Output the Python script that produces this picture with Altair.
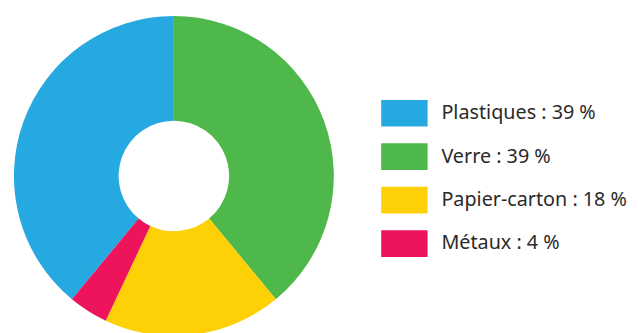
import altair as alt
import pandas as pd

categories = ["Plastiques", "Verre", "Papier-carton", "Métaux"]
values = [39, 39, 18, 4]
colors = ["#26A9E0", "#4FB84B", "#FDD106", "#ED145B"]
# clockwise order starting at 12 o'clock
draw_order = [4, 1, 2, 3]

labels = [f"{c} : {v} %" for c, v in zip(categories, values)]
df = pd.DataFrame({"cat": categories, "val": values, "label": labels, "ord": draw_order})

chart = alt.Chart(df).mark_arc(innerRadius=56, outerRadius=162).encode(
    theta=alt.Theta("val:Q", stack=True),
    order=alt.Order("ord:Q"),
    x=alt.value(168),
    y=alt.value(168),
    color=alt.Color(
        "label:N",
        scale=alt.Scale(domain=labels, range=colors),
        sort=labels,
        legend=alt.Legend(
            title=None,
            orient="none",
            legendX=378,
            legendY=81,
            symbolType="M-1,-0.574H1V0.574H-1Z",
            symbolSize=2209,
            symbolStrokeWidth=0,
            symbolOpacity=1,
            labelFontSize=20,
            labelFont="Noto Sans",
            labelColor="#2B2A29",
            labelOffset=14,
            rowPadding=7,
            labelLimit=400,
        ),
    ),
).properties(
    width=630,
    height=325,
    padding=0,
    autosize=alt.AutoSizeParams(type="none"),
).configure_view(stroke=None)

chart.save("out.html", embed_options={"renderer": "svg", "actions": False})
